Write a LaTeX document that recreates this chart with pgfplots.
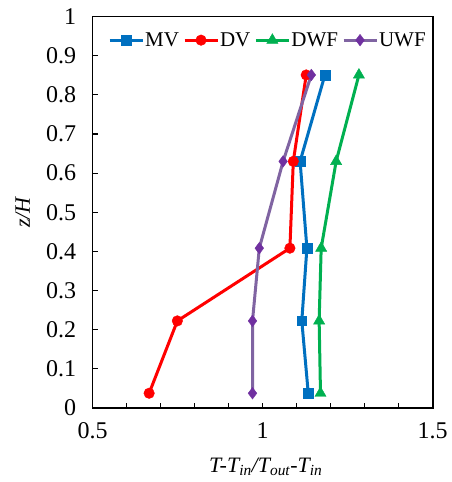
\documentclass[border=0pt]{standalone}
\usepackage{fontspec}
\setmainfont{Liberation Serif}
\usepackage{pgfplots}
\pgfplotsset{compat=1.18}
\definecolor{mvblue}{RGB}{0,112,192}
\definecolor{dvred}{RGB}{255,0,0}
\definecolor{dwfgreen}{RGB}{0,176,80}
\definecolor{uwfline}{RGB}{128,100,162}
\definecolor{uwfmark}{RGB}{112,48,160}
\begin{document}
\begin{tikzpicture}
\begin{axis}[
    scale only axis,
    width=340pt, height=391pt,
    xmin=0.5, xmax=1.5, ymin=0, ymax=1,
    xtick={0.5,1,1.5},
    minor xtick={0.6,0.7,0.8,0.9,1.1,1.2,1.3,1.4},
    ytick={0,0.1,0.2,0.3,0.4,0.5,0.6,0.7,0.8,0.9,1},
    yticklabels={0,0.1,0.2,0.3,0.4,0.5,0.6,0.7,0.8,0.9,1},
    tick align=inside,
    xtick pos=bottom, ytick pos=left,
    major tick length=5pt, minor tick length=5pt,
    every tick/.style={black, line width=1.1pt},
    axis line style={line width=1.6pt},
    tick label style={font=\fontsize{24}{26}\selectfont},
    yticklabel style={xshift=-13pt},
    xticklabel style={yshift=-11pt},
    /pgf/number format/assume math mode=true,
    xlabel={\textit{T-T\textsubscript{in}/T\textsubscript{out}-T\textsubscript{in}}},
    ylabel={\textit{z/H}},
    every axis x label/.style={at={(axis description cs:0.5,0)}, xshift=3pt, yshift=-65pt, anchor=base,
        font=\fontsize{22}{24}\selectfont},
    every axis y label/.style={at={(axis description cs:0,0.5)}, xshift=-70pt, rotate=90, anchor=center,
        font=\fontsize{22}{24}\selectfont},
    legend style={draw=none, fill=none, at={(0.045,0.94)}, anchor=west, inner sep=0pt,
        font=\fontsize{21}{24}\selectfont,
        nodes={inner sep=1pt},
        /tikz/every odd column/.append style={column sep=0pt},
        /tikz/every even column/.append style={column sep=3pt}},
    legend columns=4,
    legend image code/.code={
        \draw[#1] (0pt,0pt) -- (33pt,0pt);
        \draw[#1, only marks] plot coordinates {(16.5pt,0pt)};
    },
]
\addplot[mvblue, line width=3pt, mark=square*, mark size=4.8pt, mark options={solid, line width=0.4pt}] coordinates {
    (1.134,0.037) (1.115,0.222) (1.13,0.408) (1.11,0.630) (1.183,0.851)
};
\addplot[dvred, line width=3pt, mark=*, mark size=5.3pt, mark options={solid, line width=0.4pt}] coordinates {
    (0.666,0.037) (0.749,0.222) (1.08,0.408) (1.09,0.630) (1.128,0.851)
};
\addplot[dwfgreen, line width=3pt, mark=triangle*, mark size=6.5pt, mark options={solid, line width=0.4pt}] coordinates {
    (1.170,0.037) (1.166,0.222) (1.172,0.408) (1.216,0.630) (1.283,0.851)
};
\addplot[uwfline, line width=3pt, mark=diamond*, mark size=5.8pt, mark options={solid, line width=0.4pt, fill=uwfmark, draw=uwfmark}] coordinates {
    (0.970,0.037) (0.970,0.222) (0.990,0.408) (1.060,0.630) (1.143,0.851)
};
\legend{MV, DV, DWF, UWF}
\end{axis}
\path (current axis.south west) ++(-92.7pt,-74.3pt) rectangle ++(448pt,482pt);
\end{tikzpicture}
\end{document}
